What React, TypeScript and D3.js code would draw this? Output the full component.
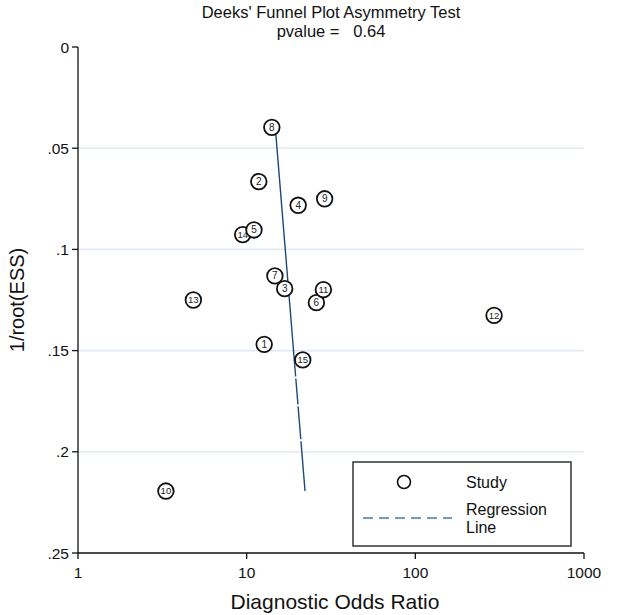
import * as d3 from 'd3'

const WIDTH = 618
const HEIGHT = 615
const MARGIN = { top: 47, right: 34, bottom: 62, left: 78 }

// study id, diagnostic odds ratio, 1/root(ESS)
const STUDY_IDS = [1, 2, 3, 4, 5, 6, 7, 8, 9, 10, 11, 12, 13, 14, 15]
const STUDY_DOR = [12.7, 11.8, 16.8, 20.2, 11.05, 25.9, 14.7, 14.1, 29.0, 3.32, 28.5, 293, 4.83, 9.47, 21.5]
const STUDY_INVSQRT_ESS = [
  0.1469, 0.0665, 0.1194, 0.0782, 0.0904, 0.1263, 0.1131, 0.0397, 0.075, 0.2194, 0.1199, 0.1326, 0.125,
  0.0927, 0.1546,
]

// regression line end points
const REG_DOR = [14.78, 22.18]
const REG_INVSQRT_ESS = [0.0397, 0.2194]

const X_TICKS = [1, 10, 100, 1000]
const Y_TICKS = [0, 0.05, 0.1, 0.15, 0.2, 0.25]
const Y_GRID = [0.05, 0.1, 0.15, 0.2]

const FONT = "'Liberation Sans', Arial, Helvetica, sans-serif"

function fmtY(v: number) {
  if (v === 0) return '0'
  return d3.format('.2~f')(v).replace(/^0/, '')
}

export default function App() {
  const innerW = WIDTH - MARGIN.left - MARGIN.right
  const innerH = HEIGHT - MARGIN.top - MARGIN.bottom
  const x = d3.scaleLog().domain([1, 1000]).range([MARGIN.left, MARGIN.left + innerW])
  const y = d3.scaleLinear().domain([0, 0.25]).range([MARGIN.top, MARGIN.top + innerH])

  // draw in order of DOR so that right-hand markers sit on top
  const studies = STUDY_IDS.map((id, i) => ({ id, dor: STUDY_DOR[i], v: STUDY_INVSQRT_ESS[i] })).sort(
    (a, b) => a.dor - b.dor
  )

  const regLine = d3
    .line<number>()
    .x((_, i) => x(REG_DOR[i]))
    .y((d) => y(d))(REG_INVSQRT_ESS) ?? ''

  const bottom = MARGIN.top + innerH
  const cx = MARGIN.left + innerW / 2

  const lg = { x: 353, y: 462, w: 218, h: 84 }

  return (
    <svg
      width={WIDTH}
      height={HEIGHT}
      style={{ position: 'absolute', left: 0, top: 0, background: '#fff' }}
      fontFamily={FONT}
    >
      <text x={cx} y={17.5} textAnchor="middle" fontSize={16.5} fill="#111">
        Deeks' Funnel Plot Asymmetry Test
      </text>
      <text x={cx} y={36.5} textAnchor="middle" fontSize={16.5} fill="#111" xmlSpace="preserve">
        pvalue =   0.64
      </text>

      {Y_GRID.map((t) => (
        <line
          key={t}
          x1={MARGIN.left}
          x2={MARGIN.left + innerW}
          y1={y(t)}
          y2={y(t)}
          stroke="#e2eaf1"
          strokeWidth={1.6}
        />
      ))}

      {/* y axis */}
      <line x1={MARGIN.left} x2={MARGIN.left} y1={MARGIN.top} y2={bottom} stroke="#111" strokeWidth={1.3} />
      {Y_TICKS.map((t) => (
        <g key={t}>
          <line x1={MARGIN.left - 6} x2={MARGIN.left} y1={y(t)} y2={y(t)} stroke="#111" strokeWidth={1.3} />
          <text x={MARGIN.left - 9} y={y(t) + 5.5} textAnchor="end" fontSize={15.5} fill="#111">
            {fmtY(t)}
          </text>
        </g>
      ))}
      <text
        transform={`translate(${24},${MARGIN.top + innerH / 2}) rotate(-90)`}
        textAnchor="middle"
        fontSize={20}
        fill="#111"
      >
        1/root(ESS)
      </text>

      {/* x axis */}
      <line x1={MARGIN.left} x2={MARGIN.left + innerW} y1={bottom} y2={bottom} stroke="#111" strokeWidth={1.3} />
      {X_TICKS.map((t) => (
        <g key={t}>
          <line x1={x(t)} x2={x(t)} y1={bottom} y2={bottom + 6} stroke="#111" strokeWidth={1.3} />
          <text x={x(t)} y={bottom + 25} textAnchor="middle" fontSize={15.5} fill="#111">
            {t}
          </text>
        </g>
      ))}
      <text x={cx + 4} y={609} textAnchor="middle" fontSize={21} fill="#111">
        Diagnostic Odds Ratio
      </text>

      {/* regression line */}
      <path d={regLine} fill="none" stroke="#1a4a7a" strokeWidth={1.4} strokeDasharray="250 2 26 2 33 2 60" />

      {/* studies */}
      {studies.map((s) => (
        <g key={s.id} transform={`translate(${x(s.dor)},${y(s.v)})`}>
          <circle r={7.8} fill="#fff" stroke="#111" strokeWidth={1.8} />
          <text y={3.4} textAnchor="middle" fontSize={s.id >= 10 ? 9.5 : 10} fill="#222">
            {s.id}
          </text>
        </g>
      ))}

      {/* legend */}
      <rect x={lg.x} y={lg.y} width={lg.w} height={lg.h} fill="#fff" stroke="#333" strokeWidth={1.5} />
      <circle cx={lg.x + 51} cy={lg.y + 20} r={6.5} fill="#fff" stroke="#111" strokeWidth={1.6} />
      <text x={lg.x + 113} y={lg.y + 26} fontSize={16} fill="#111">
        Study
      </text>
      <line
        x1={lg.x + 10}
        x2={lg.x + 99}
        y1={lg.y + 56}
        y2={lg.y + 56}
        stroke="#4a78ad"
        strokeWidth={1.3}
        strokeDasharray="10 6"
      />
      <text x={lg.x + 113} y={lg.y + 53} fontSize={16} fill="#111">
        Regression
      </text>
      <text x={lg.x + 113} y={lg.y + 71} fontSize={16} fill="#111">
        Line
      </text>
    </svg>
  )
}
